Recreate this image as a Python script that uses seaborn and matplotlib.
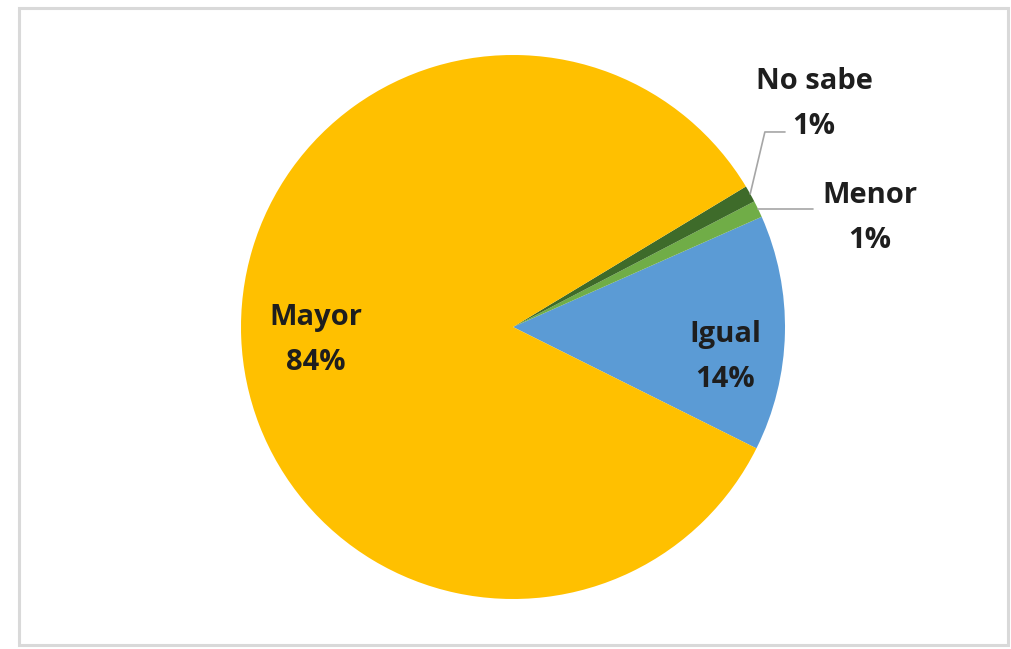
import numpy as np
import matplotlib
matplotlib.use("Agg")
import matplotlib.pyplot as plt
import seaborn as sns

# Survey answers, percent of respondents
categories = ["Igual", "Menor", "No sabe", "Mayor"]
values = [14, 1, 1, 84]
colors = ["#5B9BD5", "#70AD47", "#3E6B2A", "#FFC000"]

sns.set_theme(style="white")
plt.rcParams["font.family"] = ["Open Sans", "DejaVu Sans"]

W, H, DPI = 1012, 649, 100
fig = plt.figure(figsize=(W / DPI, H / DPI), dpi=DPI)
fig.patch.set_facecolor("white")

# chart frame
frame = plt.Rectangle((19 / W, 1 - 645 / H), (1008 - 19) / W, (645 - 8) / H,
                      transform=fig.transFigure, fill=False,
                      edgecolor="#D9D9D9", linewidth=2.2)
fig.patches.append(frame)

# pie axes: centre (513, 327) px, radius 272 px
cx, cy, r = 513, 327, 272
ax = fig.add_axes([(cx - r) / W, (H - cy - r) / H, 2 * r / W, 2 * r / H])

wedges, _ = ax.pie(values, colors=colors, startangle=-26.5, counterclock=True,
                   radius=1.0, wedgeprops=dict(linewidth=0))
ax.set_xlim(-1, 1)
ax.set_ylim(-1, 1)
ax.set_aspect("equal")
ax.axis("off")

txt_kw = dict(fontsize=21, fontweight="bold", color="#1E1E1E",
              ha="center", va="center", linespacing=1.72, clip_on=False)

def label(i, x, y):
    ax.text(x, y, f"{categories[i]}\n{values[i]}%", **txt_kw)

def mid_point(i, rad=1.0):
    w = wedges[i]
    a = np.deg2rad((w.theta1 + w.theta2) / 2)
    return rad * np.cos(a), rad * np.sin(a)

# inside labels
label(3, -0.724, -0.048)
label(0, 0.78, -0.11)

# outside labels with leader lines
label(2, 1.107, 0.82)
x0, y0 = mid_point(2)
ax.plot([x0, 0.926, 1.0], [y0, 0.717, 0.717], color="#A6A6A6", lw=1.2,
        clip_on=False)

label(1, 1.313, 0.40)
x1, y1 = mid_point(1)
ax.plot([x1, 1.103], [y1, y1], color="#A6A6A6", lw=1.2, clip_on=False)

fig.savefig("out.png", dpi=DPI, facecolor="white")
